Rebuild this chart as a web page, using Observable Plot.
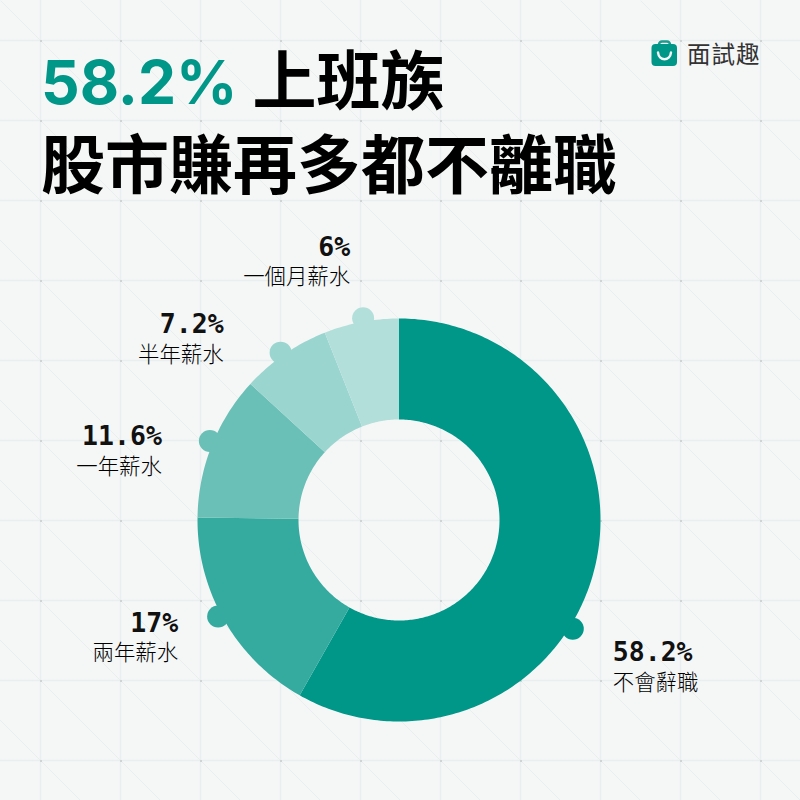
<!DOCTYPE html>
<html lang="zh-Hant"><head><meta charset="utf-8">
<script src="https://cdn.jsdelivr.net/npm/d3@7"></script>
<script src="https://cdn.jsdelivr.net/npm/@observablehq/plot@0.6"></script>
<style>
html,body{margin:0;padding:0;background:#f5f7f7;}
#wrap{position:relative;width:800px;height:800px;overflow:hidden;}
#chart svg{position:absolute;left:0;top:0;background:transparent;}
.t{position:absolute;left:41px;margin:0;font:700 64px/80px "Noto Sans CJK TC",sans-serif;color:#000;white-space:nowrap;}
#t1{top:36px;}
#t2{top:120px;}
#t1 span{color:#009688;font:700 60.500px/80px Inter,sans-serif;margin-left:0;margin-right:15px;}
#brand{position:absolute;left:651px;top:39px;display:flex;align-items:center;gap:9px;font:400 23.500px/28px "Noto Sans CJK TC",sans-serif;color:#333;letter-spacing:1px;}
#brand svg{position:static;display:block;}
</style></head><body>
<div id="wrap"><div id="chart"></div>
<h1 class="t" id="t1"><span>58.2%</span>上班族</h1>
<div class="t" id="t2">股市賺再多都不離職</div>
<div id="brand"><svg width="27" height="27" viewBox="0 0 27 27"><path d="M8 5V4.500A3 3 0 0 1 11 1.500H16A3 3 0 0 1 19 4.500V5" fill="none" stroke="#1a9c8f" stroke-width="2.600"/><rect x="0.500" y="4" width="25.500" height="22" rx="4" fill="#009688"/><path d="M7 12.500C8 21.500 19 21.500 20 12.500" fill="none" stroke="#f5f7f7" stroke-width="2.400" stroke-linecap="round"/></svg><span>面試趣</span></div>
</div>
<script>
// Data
const categories = ["不會辭職", "兩年薪水", "一年薪水", "半年薪水", "一個月薪水"];
const values = [58.2, 17, 11.6, 7.2, 6];
const valueLabels = ["58.2%", "17%", "11.6%", "7.2%", "6%"];
const knobAt = [33.9, 67.2, 81.3, 90.2, 97.2];   // position of each knob, in percent around the ring
// Styling and layout
const colors = ["#009688", "#35aba0", "#6ac0b6", "#9bd5cf", "#b3dfdb"];
const centre = [398.5, 519.5], rOuter = 201.5, rInner = 100.5, rKnob = 205;
const labelOffset = [[40, 24], [-40, 7], [-48, -4], [-57, -28], [-13, -71]];
const labelAnchor = ["start", "end", "end", "end", "end"];
const gridStep = 80, gridStart = 40, size = 800;

const polar = (pct, r) => {
  const a = pct / 100 * 2 * Math.PI;
  return [centre[0] + r * Math.sin(a), centre[1] - r * Math.cos(a)];
};
let run = 0;
const slices = categories.flatMap((name, i) => {
  const from = run, to = (run += values[i]);
  const n = Math.ceil(values[i] * 4);
  const t = d3.range(n + 1).map(k => from + (to - from) * k / n);
  return [...t.map(p => polar(p, rOuter)), ...t.reverse().map(p => polar(p, rInner))]
    .map(([x, y]) => ({name, x, y}));
});
const knobs = categories.map((name, i) => {
  const [x, y] = polar(knobAt[i], rKnob);
  return {name, x, y, value: valueLabels[i], anchor: labelAnchor[i],
          lx: x + labelOffset[i][0], ly: y + labelOffset[i][1]};
});
const grid = d3.range(gridStart, size, gridStep);
const crossings = grid.flatMap(x => grid.map(y => ({x, y})));
const diagonals = d3.range(-size, size + 1, gridStep).map(d => ({x1: d, y1: 0, x2: d + size, y2: size}));

const textFor = (anchor) => [
  Plot.text(knobs.filter(d => d.anchor === anchor), {x: "lx", y: "ly", text: "value", textAnchor: anchor,
    fontFamily: "'DejaVu Sans Mono'", fontWeight: 700, fontSize: 26.5, fill: "#111"}),
  Plot.text(knobs.filter(d => d.anchor === anchor), {x: "lx", y: "ly", dy: 30, text: "name", textAnchor: anchor,
    fontFamily: "'Noto Sans CJK TC'", fontWeight: 300, fontSize: 21.4, fill: "#000"})
];

const chart = Plot.plot({
  width: size, height: size, margin: 0,
  x: {domain: [0, size], range: [0, size], axis: null},
  y: {domain: [0, size], range: [0, size], axis: null},
  color: {domain: categories, range: colors},
  style: {background: "transparent", overflow: "visible"},
  marks: [
    Plot.ruleX(grid, {stroke: "#ebeeee", strokeWidth: 1.5}),
    Plot.ruleY(grid, {stroke: "#ebeeee", strokeWidth: 1.5}),
    Plot.link(diagonals, {x1: "x1", y1: "y1", x2: "x2", y2: "y2", stroke: "#ebeeee", strokeWidth: 1}),
    Plot.dot(crossings, {x: "x", y: "y", r: 1, fill: "#c6caca", dx: 0.5, dy: 0.5}),
    Plot.dot(knobs, {x: "x", y: "y", r: 11, fill: "name"}),
    Plot.line(slices, {x: "x", y: "y", z: "name", fill: "name", stroke: null, curve: "linear"}),
    ...textFor("start"),
    ...textFor("end")
  ]
});
document.getElementById("chart").append(chart);
</script></body></html>
